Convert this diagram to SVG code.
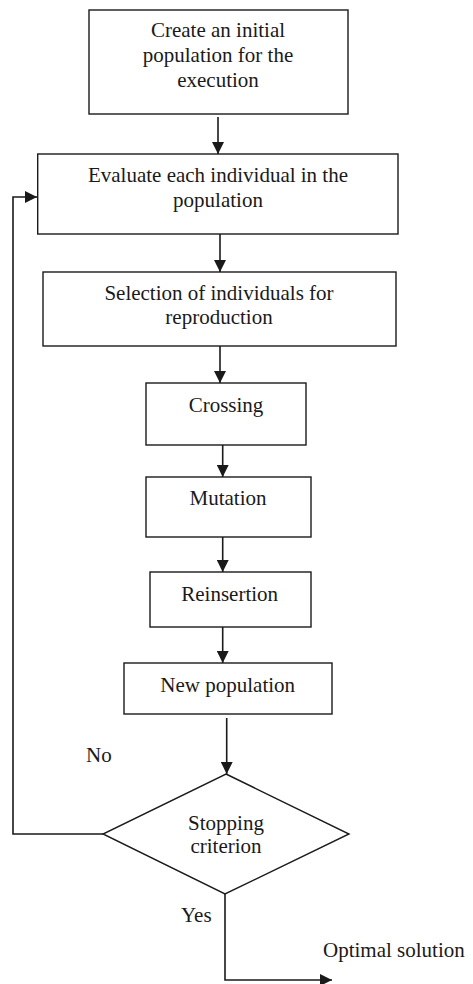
<svg xmlns="http://www.w3.org/2000/svg" width="473" height="984" viewBox="0 0 473 984">
<style>
.box{fill:#fff;stroke:#1a1a1a;stroke-width:1.4}
.t{font-family:"Liberation Serif","Times New Roman",serif;font-size:21px;fill:#1a1a1a;text-anchor:middle}
.l{font-family:"Liberation Serif","Times New Roman",serif;font-size:21px;fill:#1a1a1a}
.c{fill:none;stroke:#1a1a1a;stroke-width:1.6}
</style>
<defs>
<marker id="ah" markerUnits="userSpaceOnUse" markerWidth="12" markerHeight="12" refX="12" refY="6" orient="auto">
<path d="M0,0 L12,6 L0,12 z" fill="#1a1a1a"/>
</marker>
</defs>
<rect width="473" height="984" fill="#fff"/>
<g id="connectors">
<line class="c" x1="218" y1="117" x2="218" y2="154" marker-end="url(#ah)"/>
<line class="c" x1="220" y1="234" x2="220" y2="272" marker-end="url(#ah)"/>
<line class="c" x1="220" y1="346" x2="220" y2="383" marker-end="url(#ah)"/>
<line class="c" x1="222.7" y1="445" x2="222.7" y2="477" marker-end="url(#ah)"/>
<line class="c" x1="222.7" y1="537" x2="222.7" y2="572" marker-end="url(#ah)"/>
<line class="c" x1="222.7" y1="627" x2="222.7" y2="663" marker-end="url(#ah)"/>
<line class="c" x1="226.7" y1="718" x2="226.7" y2="774" marker-end="url(#ah)"/>
<polyline class="c" points="103,834 13,834 13,197 37,197" marker-end="url(#ah)"/>
<polyline class="c" points="225,894 225,980 332,980" marker-end="url(#ah)"/>
<text class="l" x="86" y="762">No</text>
<text class="l" x="181" y="922">Yes</text>
<text class="l" x="323" y="957">Optimal solution</text>
</g>
<g id="n1">
<rect class="box" x="89" y="10" width="259" height="104"/>
<text class="t" x="218" y="37">Create an initial</text>
<text class="t" x="218" y="62">population for the</text>
<text class="t" x="218" y="87">execution</text>
</g>
<g id="n2">
<rect class="box" x="37.7" y="154" width="360.3" height="80"/>
<text class="t" x="218" y="182">Evaluate each individual in the</text>
<text class="t" x="218" y="207">population</text>
</g>
<g id="n3">
<rect class="box" x="43" y="272" width="353" height="74"/>
<text class="t" x="219" y="300">Selection of individuals for</text>
<text class="t" x="219" y="324">reproduction</text>
</g>
<g id="n4">
<rect class="box" x="146" y="383" width="160" height="62"/>
<text class="t" x="226" y="412">Crossing</text>
</g>
<g id="n5">
<rect class="box" x="146" y="477" width="165" height="60"/>
<text class="t" x="228" y="505">Mutation</text>
</g>
<g id="n6">
<rect class="box" x="150" y="572" width="161" height="55"/>
<text class="t" x="229.7" y="601">Reinsertion</text>
</g>
<g id="n7">
<rect class="box" x="124" y="663" width="208" height="51"/>
<text class="t" x="227.7" y="692">New population</text>
</g>
<g id="n8">
<polygon class="box" points="226,774 349,834 225,894 103,834"/>
<text class="t" x="226" y="830">Stopping</text>
<text class="t" x="226" y="853">criterion</text>
</g>
</svg>
